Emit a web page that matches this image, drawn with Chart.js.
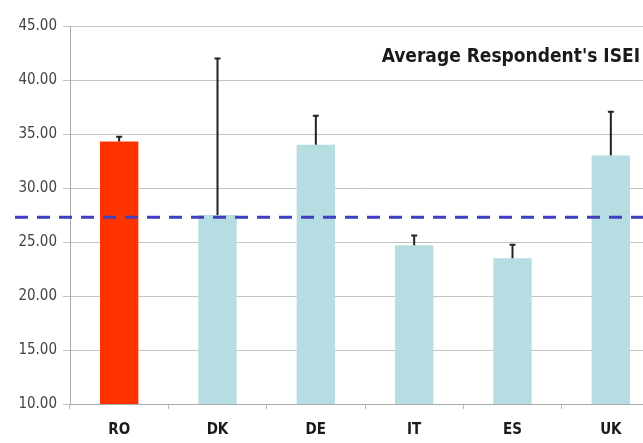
<!DOCTYPE html>
<html>
<head>
<meta charset="utf-8">
<script src="https://cdn.jsdelivr.net/npm/chart.js@4"></script>
<style>
  html, body { margin: 0; padding: 0; background: #fff; overflow: hidden; }
  .wrap { width: 660px; height: 443px; }
</style>
</head>
<body>
<div class="wrap"><canvas id="myChart"></canvas></div>
<script>
const countries = ['RO', 'DK', 'DE', 'IT', 'ES', 'UK'];
const isei = [34.3, 27.5, 34.0, 24.7, 23.5, 33.0];
const errTop = [34.75, 42.0, 36.7, 25.6, 24.75, 37.05];
const average = 27.3;
const yTicks = [10, 15, 20, 25, 30, 35, 40, 45];

const narrow = "'Liberation Sans Narrow', 'DejaVu Sans Condensed', sans-serif";

const barColors = countries.map(c => c === 'RO' ? '#ff3300' : '#b6dde1');

// error bars + average line + title
const extras = {
   id: 'extras',
   afterDatasetsDraw(chart) {
      const ctx = chart.ctx;
      const x = chart.scales.x, y = chart.scales.y;
      const area = chart.chartArea;
      ctx.save();
      // average dashed line
      ctx.strokeStyle = '#3f3fc0';
      ctx.lineWidth = 3;
      ctx.setLineDash([13, 9]);
      let ya = y.getPixelForValue(average);
      ctx.beginPath();
      ctx.moveTo(15, ya);
      ctx.lineTo(area.right, ya);
      ctx.stroke();
      ctx.setLineDash([]);
      // error bars
      ctx.strokeStyle = '#222';
      ctx.lineWidth = 2;
      errTop.forEach((e, i) => {
         let px = x.getPixelForValue(i);
         let y0 = y.getPixelForValue(isei[i]);
         let y1 = y.getPixelForValue(e);
         ctx.beginPath();
         ctx.moveTo(px, y0);
         ctx.lineTo(px, y1);
         ctx.moveTo(px - 3, y1);
         ctx.lineTo(px + 3, y1);
         ctx.stroke();
      });
      // title inside plot
      ctx.fillStyle = '#1a1a1a';
      ctx.font = 'bold 19px ' + narrow;
      ctx.textAlign = 'right';
      ctx.textBaseline = 'middle';
      ctx.fillText("Average Respondent's ISEI", 640, 57);
      ctx.restore();
   }
};

new Chart(document.getElementById('myChart'), {
   type: 'bar',
   data: {
      labels: countries,
      datasets: [{
         data: isei,
         backgroundColor: barColors,
         borderWidth: 0,
         barPercentage: 0.39,
         categoryPercentage: 1
      }]
   },
   options: {
      responsive: true,
      maintainAspectRatio: false,
      animation: false,
      layout: { padding: { top: 26, bottom: 0, left: 0, right: 0 } },
      plugins: { legend: { display: false }, tooltip: { enabled: false } },
      scales: {
         x: {
            afterFit(scale) { scale.height = 39; },
            grid: { offset: true, drawOnChartArea: false, tickLength: 5, color: '#bbb' },
            border: { color: '#aaa' },
            ticks: { color: '#1a1a1a', font: { family: narrow, size: 15, weight: 'bold' }, padding: 12 }
         },
         y: {
            min: 10,
            max: 45,
            afterFit(scale) { scale.width = 70; },
            afterBuildTicks(scale) { scale.ticks = yTicks.map(v => ({ value: v })); },
            grid: { color: '#c4c4c4', tickLength: 7 },
            border: { color: '#aaa' },
            ticks: {
               color: '#444',
               font: { family: narrow, size: 15 },
               padding: 6,
               callback: v => Number(v).toFixed(2)
            }
         }
      }
   },
   plugins: [extras]
});
</script>
</body>
</html>
